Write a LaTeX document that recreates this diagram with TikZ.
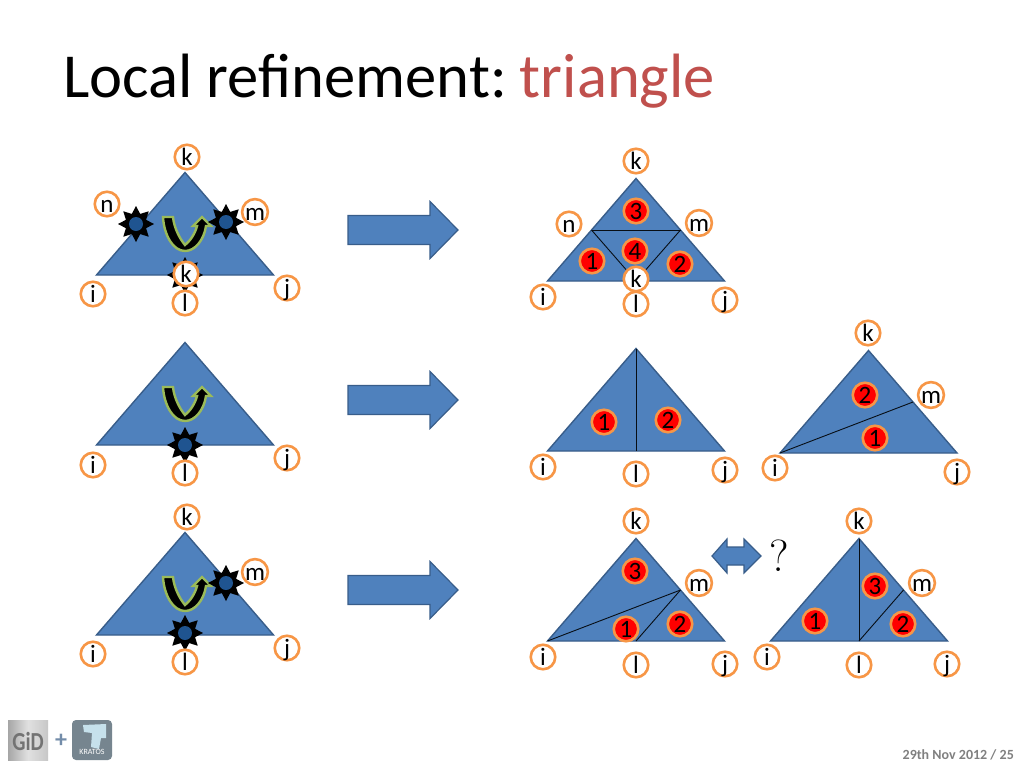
\documentclass[tikz,border=0pt]{standalone}
\usepackage{fontspec}
\setmainfont{Carlito}
\usetikzlibrary{shapes.geometric}
\definecolor{triblue}{HTML}{4F81BD}
\definecolor{triedge}{HTML}{385D8A}
\definecolor{ringorange}{HTML}{F79646}
\definecolor{titlered}{HTML}{C0504D}
\definecolor{ugreen}{HTML}{9BBB59}
\definecolor{coreblue}{HTML}{1F5490}
\definecolor{kratosbox}{HTML}{76858F}
\tikzset{
  x=1pt,y=-1pt,
  tri/.style={fill=triblue,draw=triedge,line width=1.4pt,line join=miter},
  split/.style={draw=black!85!triedge,line width=0.9pt},
  lab/.style={circle,draw=ringorange,line width=2.6pt,fill=white,minimum size=24.5pt,inner sep=0pt,
    font=\fontsize{25}{25}\selectfont,text height=16.5pt,text depth=0pt},
  num/.style={circle,draw=ringorange,line width=2.6pt,fill=red,minimum size=24.5pt,inner sep=0pt,
    font=\fontsize{25}{25}\selectfont,text height=16pt,text depth=0pt},
  burst/.style={star,star points=8,star point ratio=1.65,fill=black,minimum size=36pt,inner sep=0pt},
  core/.style={circle,fill=coreblue,minimum size=14pt,inner sep=0pt},
  bigarrow/.style={fill=triblue,draw=triedge,line width=1.2pt,line join=miter},
  uturn/.style={fill=black,draw=ugreen,line width=2.4pt,line join=miter},
}
\newcommand{\trishape}[3]{%
  \coordinate (#3a) at (#1,#2+0.5);
  \coordinate (#3b) at (#1-88.5,#2+103);
  \coordinate (#3c) at (#1+88.5,#2+103);
  \coordinate (#3l) at (#1,#2+103);
  \coordinate (#3n) at (#1-44.5,#2+52);
  \coordinate (#3m) at (#1+44.5,#2+52);
  \draw[tri] (#3a) -- (#3b) -- (#3c) -- cycle;}
\newcommand{\uarrow}[1]{%
  \draw[uturn,shift={(185,#1)}] (-22,45) -- (-12,45)
    .. controls (-11,56) and (-5,67) .. (0,73)
    .. controls (5,69) and (10,62) .. (12,54)
    -- (8,54) -- (17,45) -- (26,54) -- (21,54)
    .. controls (19,68) and (10,79) .. (0,79)
    .. controls (-12,79) and (-21,63) .. (-22,45) -- cycle;}
\newcommand{\burstat}[3]{\node[burst] (#1) at (#2,#3) {}; \node[core] (#1c) at (#1) {};}
\newcommand{\blockarrow}[1]{%
  \draw[bigarrow,shift={(0,#1)}] (348,-14.5) -- (430,-14.5) -- (430,-28.5) -- (458,0) -- (430,28.5) -- (430,14.5) -- (348,14.5) -- cycle;}
\begin{document}
\begin{tikzpicture}
\useasboundingbox (0,0) rectangle (1024,768);
\fill[white] (0,0) rectangle (1024,768);
% title
\node[anchor=base west,inner sep=0pt,font=\fontsize{62.6}{62.6}\selectfont] (title) at (63,97) {Local refinement:\hspace{13pt}\textcolor{titlered}{triangle}};

% left column, row 1
\trishape{185}{172}{A}
\uarrow{172}
\burstat{s1}{136}{224}
\burstat{s2}{226}{222}
\burstat{s3}{185}{275}
\node[lab] (A1) at (187,157) {k};
\node[lab] (A2) at (107,204) {n};
\node[lab] (A3) at (255,212) {m};
\node[lab] (A4) at (93,294) {i};
\node[lab] (A5) at (185,303) {l};
\node[lab] (A6) at (287,288) {j};
\node[lab] (A7) at (186,274) {k};
% row 2
\trishape{185}{342}{B}
\uarrow{342}
\burstat{s4}{185}{445}
\node[lab] (B4) at (93,465) {i};
\node[lab] (B5) at (185,473) {l};
\node[lab] (B6) at (287,458) {j};
% row 3
\trishape{185}{532}{C}
\uarrow{532}
\burstat{s5}{226}{583}
\burstat{s6}{185}{633}
\node[lab] (C1) at (187,517) {k};
\node[lab] (C3) at (255,572) {m};
\node[lab] (C4) at (93,654) {i};
\node[lab] (C5) at (185,662) {l};
\node[lab] (C6) at (287,648) {j};

% arrows
\blockarrow{230}
\blockarrow{400}
\blockarrow{590}

% right row 1
\trishape{636}{178}{D}
\draw[split] (Dn) -- (Dm);
\draw[split] (Dn) -- (Dl);
\draw[split] (Dm) -- (Dl);
\node[num] (D3) at (636,211) {3};
\node[num] (D4) at (635,251) {4};
\node[num] (D1) at (592,261) {1};
\node[num] (D2) at (680,264) {2};
\node[lab] (Dk) at (636,161) {k};
\node[lab] (Dnn) at (569,224) {n};
\node[lab] (Dmm) at (699,223) {m};
\node[lab] (Di) at (543,297) {i};
\node[lab] (Dll) at (636,304) {l};
\node[lab] (Dj) at (725,300) {j};
\node[lab] (Dk2) at (636,279) {k};

% right row 2, first
\trishape{636}{348}{E}
\draw[split] (Ea) -- (El);
\node[num] (E1) at (604,422) {1};
\node[num] (E2) at (668,420) {2};
\node[lab] (Ei) at (543,467) {i};
\node[lab] (Ell) at (636,474) {l};
\node[lab] (Ej) at (725,470) {j};

% right row 2, second
\trishape{868.5}{350}{F}
\draw[split] (Fb) -- (Fm);
\node[num] (F2) at (865,395) {2};
\node[num] (F1) at (875,438) {1};
\node[lab] (Fk) at (868,333) {k};
\node[lab] (Fmm) at (931,395) {m};
\node[lab] (Fi) at (775,468) {i};
\node[lab] (Fj) at (957,472) {j};

% right row 3, first
\trishape{636}{538}{G}
\draw[split] (Gb) -- (Gm);
\draw[split] (Gl) -- (Gm);
\node[num] (G3) at (635,571) {3};
\node[num] (G1) at (626,629) {1};
\node[num] (G2) at (680,624) {2};
\node[lab] (Gk) at (636,521) {k};
\node[lab] (Gmm) at (699,583) {m};
\node[lab] (Gi) at (543,657) {i};
\node[lab] (Gll) at (636,665) {l};
\node[lab] (Gj) at (725,664) {j};

% double arrow and question mark
\draw[bigarrow] (712,556) -- (727,539) -- (727,547) -- (744,547) -- (744,539) -- (761,556) -- (744,573) -- (744,565) -- (727,565) -- (727,573) -- cycle;
\node[inner sep=0pt,font=\fontspec{Latin Modern Roman}\fontsize{45}{45}\selectfont] (q) at (779,556) {?};

% right row 3, second
\trishape{859}{538}{H}
\draw[split] (Ha) -- (Hl);
\draw[split] (Hl) -- (Hm);
\node[num] (H1) at (815,621) {1};
\node[num] (H3) at (875,586) {3};
\node[num] (H2) at (903,624) {2};
\node[lab] (Hk) at (859,521) {k};
\node[lab] (Hmm) at (922,583) {m};
\node[lab] (Hi) at (767,657) {i};
\node[lab] (Hll) at (859,665) {l};
\node[lab] (Hj) at (947,664) {j};

% footer
\shade[left color=black!35,right color=black!22,middle color=black!12] (8,720) rectangle (48,760);
\node[inner sep=0pt,text=black!55,font=\fontsize{26}{26}\bfseries\selectfont,xscale=0.8] (gid) at (28,741) {GiD};
\node[inner sep=0pt,text=black!30!triblue!70!white,font=\fontsize{24}{24}\bfseries\selectfont] (plus) at (61,741) {+};
\fill[kratosbox,rounded corners=4pt] (72,720) rectangle (112,760);
\fill[cyan!20!white!85!gray] (83,725) -- (106,724) -- (106,738) -- (101,738) -- (99,749) -- (91,747) -- (92,733) -- (84,732) -- cycle;
\node[inner sep=0pt,text=white,font=\fontsize{8}{8}\selectfont] (kr) at (92,752) {KRATOS};
\node[anchor=base east,inner sep=0pt,text=black!50,font=\fontsize{14}{14}\bfseries\selectfont] (foot) at (1014,759) {29th Nov 2012 / 25};
\end{tikzpicture}
\end{document}
